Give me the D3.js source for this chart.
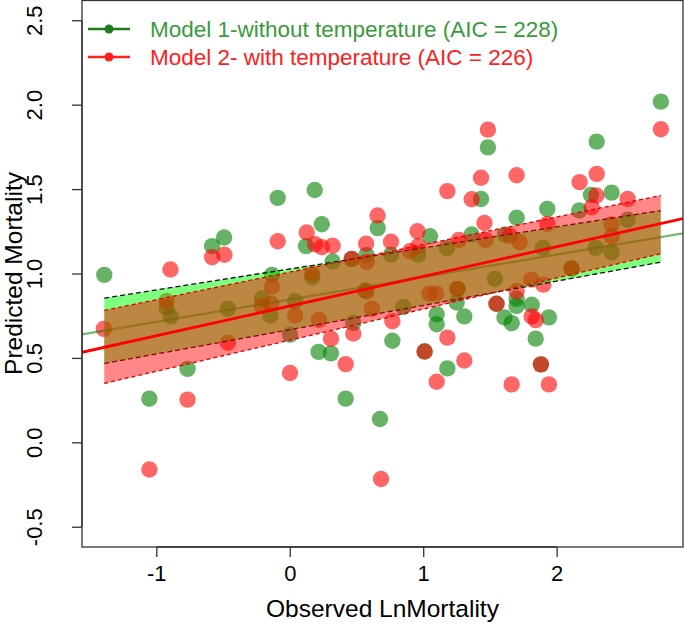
<!DOCTYPE html>
<html><head><meta charset="utf-8">
<script src="https://cdn.jsdelivr.net/npm/d3@7"></script>
<style>body{margin:0;background:#fff}svg{display:block}</style>
</head><body><div id="chart"></div>
<script>
// ---- data ----
const xTicks = [-1, 0, 1, 2];
const yTicks = [-0.5, 0, 0.5, 1, 1.5, 2, 2.5];
const xTickLabels = ["-1", "0", "1", "2"];
const yTickLabels = ["-0.5", "0.0", "0.5", "1.0", "1.5", "2.0", "2.5"];
const xLimits = [-1.39, 2.78];
const yLimits = [-0.5, 2.5];

// Model 1 (without temperature): observed LnMortality, predicted
const m1Obs = [-1.39,-0.582,-0.492,-0.09,-0.133,0.187,0.24,0.122,0.321,0.169,0.464,0.575,0.659,0.759,1.051,0.963,1.178,1.363,1.433,1.485,1.70,1.613,1.93,2.30,2.257,2.412,2.169,2.781,1.897,2.294,2.412,2.532,2.112,-0.923,-0.893,-0.766,-1.052,-0.464,-0.207,-0.144,0.002,0.04,0.216,0.309,0.419,0.476,0.676,0.851,0.769,1.101,1.101,1.01,1.181,1.251,1.308,1.538,1.609,1.663,1.70,1.70,1.813,1.942,1.843,1.882,1.257,1.549,0.564];
const m1Pred = [0.992,1.162,1.213,1.448,0.992,1.495,1.292,1.162,1.071,0.978,1.086,1.109,1.269,1.112,1.221,1.112,1.15,1.231,1.441,1.747,1.33,1.231,1.383,1.781,1.466,1.479,1.373,2.018,1.152,1.152,1.126,1.318,1.03,0.799,0.746,0.435,0.259,0.791,0.852,0.751,0.637,0.836,0.536,0.527,0.259,0.707,0.138,0.802,0.602,0.759,0.699,0.538,0.438,0.828,0.746,0.969,0.74,0.706,0.85,0.808,0.815,0.74,0.614,0.462,0.908,0.821,0.899];

// Model 2 (with temperature)
const m2Obs = [-1.393,-0.894,-0.582,-0.49,-0.09,-0.133,0.127,0.19,0.24,0.321,0.167,0.464,0.572,0.577,0.658,0.759,0.957,0.901,0.963,1.181,1.268,1.363,1.433,1.485,1.459,1.467,1.70,1.65,1.723,1.93,2.172,2.30,2.297,2.262,2.532,2.781,2.412,2.412,2.112,1.90,1.811,-0.923,-1.052,-0.766,-0.464,-0.211,-0.14,0.002,0.04,0.219,0.309,0.419,0.476,0.616,0.684,0.769,1.011,1.181,1.308,1.101,1.096,1.047,1.257,1.549,1.70,1.813,1.843,1.882,1.663,1.942,0.575];
const m2Pred = [0.672,1.024,1.096,1.111,1.191,0.923,1.243,1.173,1.156,1.164,1.0,1.086,1.176,1.069,1.344,1.188,1.25,1.132,1.163,1.488,1.199,1.44,1.567,1.852,1.299,1.199,1.582,1.224,1.185,1.294,1.541,1.59,1.462,1.392,1.442,1.854,1.29,1.219,1.03,0.934,0.964,0.837,-0.161,0.253,0.59,0.808,0.821,0.411,0.751,0.726,0.614,0.463,0.645,0.791,-0.217,0.717,0.538,0.62,0.485,0.359,0.882,0.88,0.908,0.821,0.895,0.746,0.724,0.462,0.343,0.343,0.893];

// fitted lines and confidence bands
const m1Fit = {intercept: 0.846, slope: 0.133};
const m2Fit = {intercept: 0.807, slope: 0.1757};
const bandX = [-1.39, 2.78];
const m1Lower = [0.467, 1.067], m1Upper = [0.854, 1.373];
const m2Lower = [0.349, 1.117], m2Upper = [0.781, 1.462];

const legendLabels = ["Model 1-without temperature (AIC = 228)", "Model 2- with temperature (AIC = 226)"];
const xTitle = "Observed LnMortality";
const yTitle = "Predicted Mortality";

// ---- drawing ----
const W = 685, H = 626;
const M = {left: 82, right: 683, top: 0, bottom: 547};
const ext = (a) => { const d = (a[1]-a[0])*0.04; return [a[0]-d, a[1]+d]; };
const x = d3.scaleLinear().domain(ext(xLimits)).range([M.left, M.right]);
const y = d3.scaleLinear().domain(ext(yLimits)).range([M.bottom, M.top]);
const FONT = "'Liberation Sans', Arial, sans-serif";

const svg = d3.select("#chart").append("svg").attr("width", W).attr("height", H)
  .style("font-family", FONT);

svg.append("clipPath").attr("id","clip").append("rect")
  .attr("x", M.left).attr("y", M.top).attr("width", M.right-M.left).attr("height", M.bottom-M.top);
const plot = svg.append("g").attr("clip-path","url(#clip)");

const G_PT = "rgba(0,128,0,0.6)", R_PT = "rgba(255,0,0,0.6)";
const pts1 = m1Obs.map((v,i)=>[v, m1Pred[i]]);
const pts2 = m2Obs.map((v,i)=>[v, m2Pred[i]]);
plot.append("g").selectAll("circle").data(pts1).join("circle")
  .attr("cx", d=>x(d[0])).attr("cy", d=>y(d[1])).attr("r", 8.2).attr("fill", G_PT);
plot.append("g").selectAll("circle").data(pts2).join("circle")
  .attr("cx", d=>x(d[0])).attr("cy", d=>y(d[1])).attr("r", 8.2).attr("fill", R_PT);

const fitLine = (f) => x.domain().map(v => [v, f.intercept + f.slope*v]);
const line = d3.line().x(d=>x(d[0])).y(d=>y(d[1]));
plot.append("path").attr("d", line(fitLine(m1Fit))).attr("stroke", "rgba(0,128,0,0.55)").attr("stroke-width", 2.2).attr("fill","none");

function band(lower, upper, fill, stroke, dash) {
  const area = d3.area().x((d,i)=>x(bandX[i])).y0((d,i)=>y(lower[i])).y1((d,i)=>y(upper[i]));
  plot.append("path").attr("d", area(bandX)).attr("fill", fill);
  [lower, upper].forEach(arr => {
    plot.append("path").attr("d", line(bandX.map((v,i)=>[v, arr[i]])))
      .attr("stroke", stroke).attr("stroke-width", 1.3).attr("stroke-dasharray", dash).attr("fill","none");
  });
}
band(m1Lower, m1Upper, "rgba(0,255,0,0.5)", "#111", "5,3");
band(m2Lower, m2Upper, "rgba(255,0,0,0.47)", "#e00000", "4,3");

plot.append("path").attr("d", line(fitLine(m2Fit))).attr("stroke", "#ff0000").attr("stroke-width", 2.8).attr("fill","none");

// box
svg.append("rect").attr("x", M.left).attr("y", M.top+0.5).attr("width", M.right-M.left).attr("height", M.bottom-M.top-0.5)
  .attr("fill","none").attr("stroke","#333").attr("stroke-width",1.3);

// axes
const xAxis = svg.append("g").attr("transform", `translate(0,${M.bottom})`)
  .call(d3.axisBottom(x).tickValues(xTicks).tickSize(10).tickPadding(8).tickFormat((d,i)=>xTickLabels[i]));
xAxis.select(".domain").attr("d", `M${x(xTicks[0])},0H${x(xTicks[xTicks.length-1])}`).attr("stroke","#333").attr("stroke-width",1.3);
xAxis.selectAll(".tick line").attr("stroke","#333").attr("stroke-width",1.3);
xAxis.selectAll(".tick text").attr("font-size", 22).attr("fill","#000").attr("font-family",FONT).attr("dy","0.71em");

const yAxis = svg.append("g").attr("transform", `translate(${M.left},0)`)
  .call(d3.axisLeft(y).tickValues(yTicks).tickSize(10).tickFormat((d,i)=>yTickLabels[i]));
yAxis.select(".domain").attr("d", `M0,${y(yTicks[0])}V${y(yTicks[yTicks.length-1])}`).attr("stroke","#333").attr("stroke-width",1.3);
yAxis.selectAll(".tick line").attr("stroke","#333").attr("stroke-width",1.3);
yAxis.selectAll(".tick text").attr("font-size", 22).attr("fill","#000").attr("font-family",FONT)
  .attr("x", null).attr("dy", null).attr("text-anchor","middle")
  .attr("transform", "translate(-40,0) rotate(-90)");

svg.append("text").attr("x", (M.left+M.right)/2).attr("y", 617).attr("text-anchor","middle")
  .attr("font-size", 24.5).text(xTitle);
svg.append("text").attr("transform", `translate(22,${(M.top+M.bottom)/2}) rotate(-90)`).attr("text-anchor","middle")
  .attr("font-size", 24.5).text(yTitle);

// legend
const legColsLine = ["#1e7b1e", "#ff2020"];
const legColsText = ["#3a9a3a", "#ff2020"];
legendLabels.forEach((t,i) => {
  const ly = 29 + i*28;
  svg.append("line").attr("x1", 88).attr("x2", 130).attr("y1", ly).attr("y2", ly).attr("stroke", legColsLine[i]).attr("stroke-width", 2.5);
  svg.append("circle").attr("cx", 109).attr("cy", ly).attr("r", 4.5).attr("fill", legColsLine[i]);
  svg.append("text").attr("x", 150).attr("y", ly).attr("dy","0.35em").attr("font-size", 22.5).attr("fill", legColsText[i]).text(t);
});
</script></body></html>
